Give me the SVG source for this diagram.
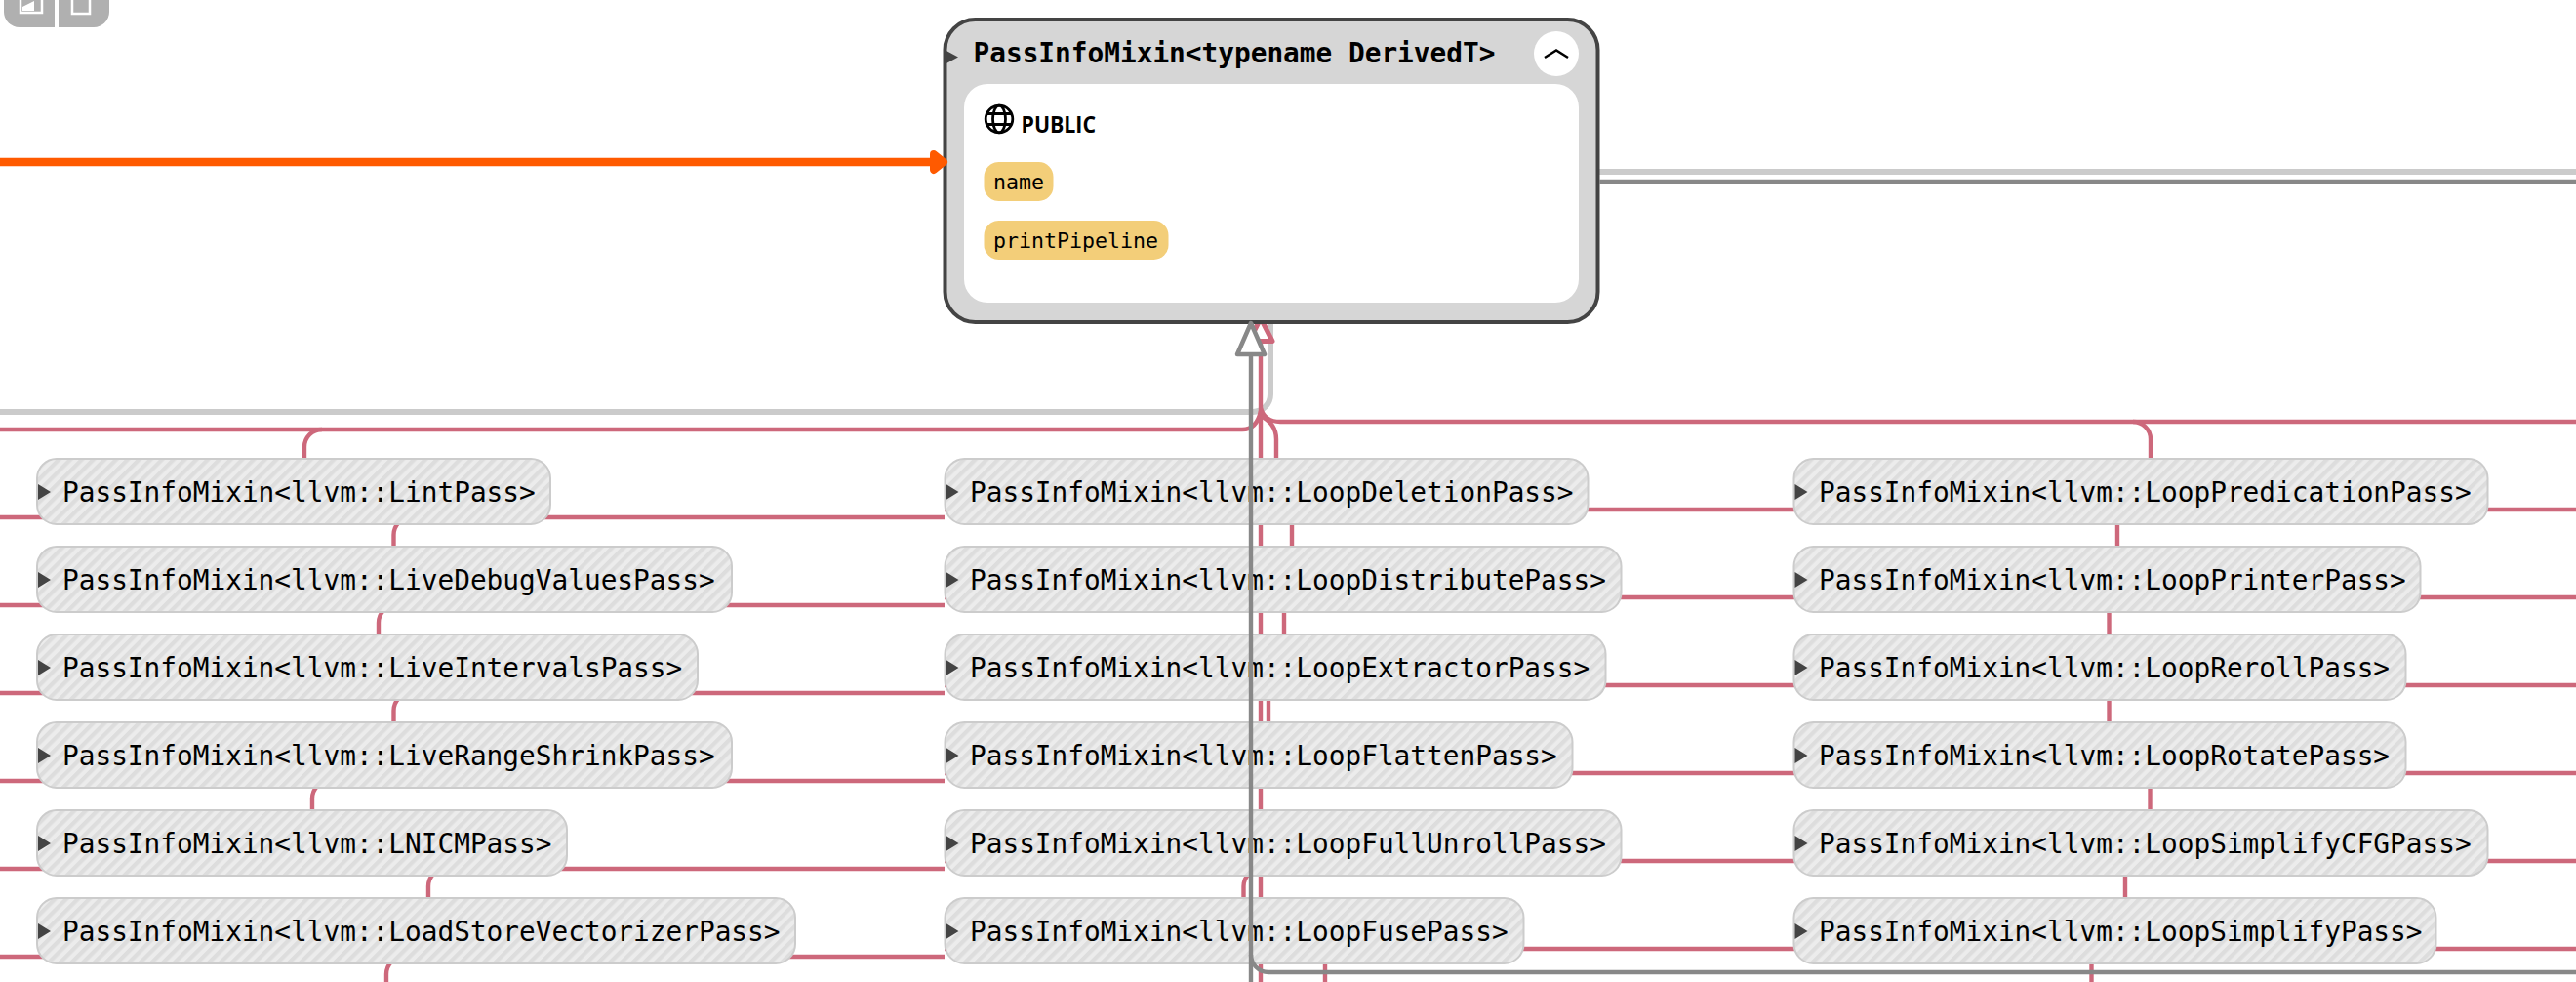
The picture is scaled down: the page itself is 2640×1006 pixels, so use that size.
<svg xmlns="http://www.w3.org/2000/svg" width="2640" height="1006" viewBox="0 0 2640 1006">
<style>
.bg{fill:#fff}
.red{fill:none;stroke:#cd687b;stroke-width:4.400}
.lg{fill:none;stroke:#cbcbcb;stroke-width:6}
.dg{fill:none;stroke:#888;stroke-width:4.400}
.n{fill:url(#hatch);stroke:#ccc;stroke-width:2}
.t{font-family:"DejaVu Sans Mono",monospace;font-size:27.770px;fill:#000}
.tb{font-weight:700}
.m{font-family:"DejaVu Sans Mono",monospace;font-size:21.600px;fill:#000}
.pill{fill:#f3ce79}
.tri{fill:#444}
.tool{fill:#b0b0b0}
.ti{fill:none;stroke:#fff;stroke-width:2.500}
</style>
<defs>
<pattern id="hatch" width="10" height="10" patternUnits="userSpaceOnUse" patternTransform="rotate(45) scale(0.83)">
<rect width="10" height="10" fill="#ececec"/>
<rect width="5" height="10" fill="#dddddd"/>
</pattern>
</defs>
<rect class="bg" width="2640" height="1006"/>
<g id="connectors-back">
<path class="lg" d="M0 422H1284A18 18 0 0 0 1302 404V331"/>
<path class="lg" d="M1639 176H2640"/>
<path class="red" d="M0 440H1273Q1288 440 1292 421"/>
<path class="red" d="M2640 432H1312Q1296 432 1292 418"/>
<path class="red" d="M1292 349V1006"/>
<path class="red" d="M1308 470V450Q1308 434 1292 426"/>
<path class="red" d="M312 470V458A18 18 0 0 1 330 440"/>
<path class="red" d="M2204 470V450A18 18 0 0 0 2186 432"/>
<path class="red" d="M0 530H968M0 620H968M0 710H968M0 800H968M0 890H968M0 980H968"/>
<path class="red" d="M968 522H2640M968 612H2640M968 702H2640M968 792H2640M968 882H2640M968 972H2640"/>
<path class="red" d="M403.500 560V548A18 18 0 0 1 421.500 530"/>
<path class="red" d="M388 650V638A18 18 0 0 1 406 620"/>
<path class="red" d="M403.500 740V728A18 18 0 0 1 421.500 710"/>
<path class="red" d="M320 830V818A18 18 0 0 1 338 800"/>
<path class="red" d="M439 920V908A18 18 0 0 1 457 890"/>
<path class="red" d="M396 1006V998A18 18 0 0 1 414 980"/>
<path class="red" d="M1324 538V560M1316 628V650M1300 718V740M1324 898V830M1358 988V1006"/>
<path class="red" d="M1274.500 920V908A18 18 0 0 1 1292 890"/>
<path class="red" d="M2170 538V560M2161.500 628V650M2161.500 718V740M2203.500 808V830M2178 898V920M2143.500 988V1006"/>
<path d="M1292 326L1304 349.500H1280Z" fill="#fff" stroke="#cd687b" stroke-width="5" stroke-linejoin="round"/>
</g>
<g id="toolbar">
<path class="tool" d="M4 0H56V28H20A16 16 0 0 1 4 12Z"/>
<path class="tool" d="M60 0H112V12A16 16 0 0 1 96 28H60Z"/>
<path class="ti" d="M21 0V13H43V0"/>
<path d="M23 11V7L35 1V11Z" fill="#fff"/>
<path class="ti" d="M74 0V14H92V0"/>
</g>
<g id="node-main">
<rect x="968.500" y="20" width="669" height="310" rx="31" fill="#d6d6d6" stroke="#444" stroke-width="4"/>
<rect x="988" y="86" width="630" height="224" rx="24" fill="#fff"/>
<path class="tri" d="M968 51L982 58.500L968 66Z"/>
<text class="t tb" x="997.500" y="64">PassInfoMixin&lt;typename DerivedT&gt;</text>
<circle cx="1595" cy="55" r="23" fill="#fff"/>
<path d="M1583 59L1595 51.500L1607 59" fill="none" stroke="#000" stroke-width="2.500"/>
<g fill="none" stroke="#000" stroke-width="2.800">
<circle cx="1024" cy="122" r="13.800"/>
<ellipse cx="1024" cy="122" rx="6.500" ry="13.800"/>
<path d="M1011.500 116.500H1036.500M1011.500 127.500H1036.500"/>
</g>
<text x="1046.500" y="135.500" font-family="Open Sans, sans-serif" font-weight="700" font-size="23.500" textLength="76.500" lengthAdjust="spacingAndGlyphs" fill="#000">PUBLIC</text>
<rect class="pill" x="1008.500" y="166" width="71" height="40" rx="15"/>
<text class="m" x="1018" y="194">name</text>
<rect class="pill" x="1008.500" y="226" width="189" height="40" rx="15"/>
<text class="m" x="1018" y="254">printPipeline</text>
</g>
<g id="node-LintPass"><rect class="n" x="38" y="470" width="526" height="67" rx="20"/><path class="tri" d="M39 496L52 504L39 512Z"/><text class="t" x="64" y="513.500">PassInfoMixin&lt;llvm::LintPass&gt;</text></g>
<g id="node-LiveDebugValuesPass"><rect class="n" x="38" y="560" width="712" height="67" rx="20"/><path class="tri" d="M39 586L52 594L39 602Z"/><text class="t" x="64" y="603.500">PassInfoMixin&lt;llvm::LiveDebugValuesPass&gt;</text></g>
<g id="node-LiveIntervalsPass"><rect class="n" x="38" y="650" width="677" height="67" rx="20"/><path class="tri" d="M39 676L52 684L39 692Z"/><text class="t" x="64" y="693.500">PassInfoMixin&lt;llvm::LiveIntervalsPass&gt;</text></g>
<g id="node-LiveRangeShrinkPass"><rect class="n" x="38" y="740" width="712" height="67" rx="20"/><path class="tri" d="M39 766L52 774L39 782Z"/><text class="t" x="64" y="783.500">PassInfoMixin&lt;llvm::LiveRangeShrinkPass&gt;</text></g>
<g id="node-LNICMPass"><rect class="n" x="38" y="830" width="543" height="67" rx="20"/><path class="tri" d="M39 856L52 864L39 872Z"/><text class="t" x="64" y="873.500">PassInfoMixin&lt;llvm::LNICMPass&gt;</text></g>
<g id="node-LoadStoreVectorizerPass"><rect class="n" x="38" y="920" width="777" height="67" rx="20"/><path class="tri" d="M39 946L52 954L39 962Z"/><text class="t" x="64" y="963.500">PassInfoMixin&lt;llvm::LoadStoreVectorizerPass&gt;</text></g>
<g id="node-LoopDeletionPass"><rect class="n" x="968.500" y="470" width="659" height="67" rx="20"/><path class="tri" d="M969.500 496L982.500 504L969.500 512Z"/><text class="t" x="994" y="513.500">PassInfoMixin&lt;llvm::LoopDeletionPass&gt;</text></g>
<g id="node-LoopDistributePass"><rect class="n" x="968.500" y="560" width="693" height="67" rx="20"/><path class="tri" d="M969.500 586L982.500 594L969.500 602Z"/><text class="t" x="994" y="603.500">PassInfoMixin&lt;llvm::LoopDistributePass&gt;</text></g>
<g id="node-LoopExtractorPass"><rect class="n" x="968.500" y="650" width="677" height="67" rx="20"/><path class="tri" d="M969.500 676L982.500 684L969.500 692Z"/><text class="t" x="994" y="693.500">PassInfoMixin&lt;llvm::LoopExtractorPass&gt;</text></g>
<g id="node-LoopFlattenPass"><rect class="n" x="968.500" y="740" width="643" height="67" rx="20"/><path class="tri" d="M969.500 766L982.500 774L969.500 782Z"/><text class="t" x="994" y="783.500">PassInfoMixin&lt;llvm::LoopFlattenPass&gt;</text></g>
<g id="node-LoopFullUnrollPass"><rect class="n" x="968.500" y="830" width="693" height="67" rx="20"/><path class="tri" d="M969.500 856L982.500 864L969.500 872Z"/><text class="t" x="994" y="873.500">PassInfoMixin&lt;llvm::LoopFullUnrollPass&gt;</text></g>
<g id="node-LoopFusePass"><rect class="n" x="968.500" y="920" width="593" height="67" rx="20"/><path class="tri" d="M969.500 946L982.500 954L969.500 962Z"/><text class="t" x="994" y="963.500">PassInfoMixin&lt;llvm::LoopFusePass&gt;</text></g>
<g id="node-LoopPredicationPass"><rect class="n" x="1838.500" y="470" width="711" height="67" rx="20"/><path class="tri" d="M1839.500 496L1852.500 504L1839.500 512Z"/><text class="t" x="1864" y="513.500">PassInfoMixin&lt;llvm::LoopPredicationPass&gt;</text></g>
<g id="node-LoopPrinterPass"><rect class="n" x="1838.500" y="560" width="642" height="67" rx="20"/><path class="tri" d="M1839.500 586L1852.500 594L1839.500 602Z"/><text class="t" x="1864" y="603.500">PassInfoMixin&lt;llvm::LoopPrinterPass&gt;</text></g>
<g id="node-LoopRerollPass"><rect class="n" x="1838.500" y="650" width="627" height="67" rx="20"/><path class="tri" d="M1839.500 676L1852.500 684L1839.500 692Z"/><text class="t" x="1864" y="693.500">PassInfoMixin&lt;llvm::LoopRerollPass&gt;</text></g>
<g id="node-LoopRotatePass"><rect class="n" x="1838.500" y="740" width="627" height="67" rx="20"/><path class="tri" d="M1839.500 766L1852.500 774L1839.500 782Z"/><text class="t" x="1864" y="783.500">PassInfoMixin&lt;llvm::LoopRotatePass&gt;</text></g>
<g id="node-LoopSimplifyCFGPass"><rect class="n" x="1838.500" y="830" width="711" height="67" rx="20"/><path class="tri" d="M1839.500 856L1852.500 864L1839.500 872Z"/><text class="t" x="1864" y="873.500">PassInfoMixin&lt;llvm::LoopSimplifyCFGPass&gt;</text></g>
<g id="node-LoopSimplifyPass"><rect class="n" x="1838.500" y="920" width="658" height="67" rx="20"/><path class="tri" d="M1839.500 946L1852.500 954L1839.500 962Z"/><text class="t" x="1864" y="963.500">PassInfoMixin&lt;llvm::LoopSimplifyPass&gt;</text></g>
<g id="connectors">
<path class="dg" d="M1639 186H2640"/>
<path class="dg" d="M1282 363V1006"/>
<path class="dg" d="M1282 978A18 18 0 0 0 1300 996H2640"/>
<path d="M1282 331L1296 363H1268Z" fill="#fff" stroke="#888" stroke-width="4.500" stroke-linejoin="round"/>
<path d="M0 166H962" fill="none" stroke="#ff5a00" stroke-width="8.400"/>
<path d="M957 158L967 166L957 174Z" fill="#ff5a00" stroke="#ff5a00" stroke-width="8" stroke-linejoin="round"/>
</g>
</svg>
